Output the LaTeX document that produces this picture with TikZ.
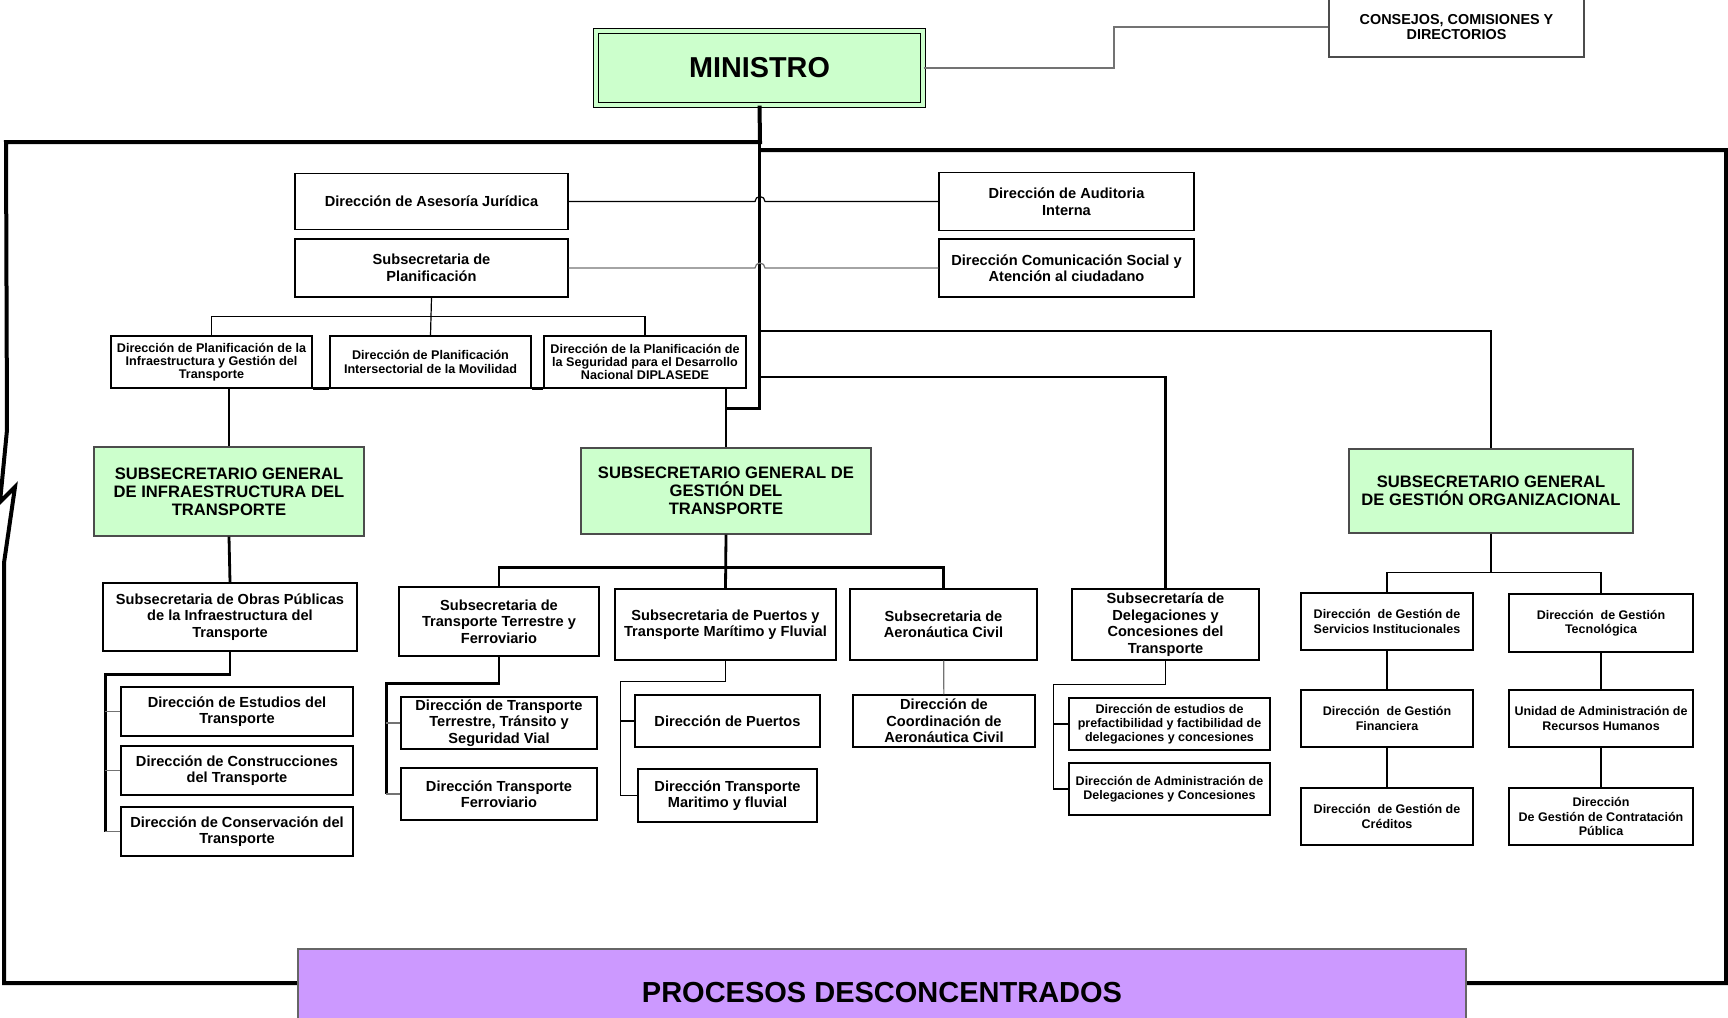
\documentclass[tikz,border=0pt]{standalone}
\usepackage{fontspec}
\setmainfont{Liberation Sans}
\usetikzlibrary{positioning,calc}
\definecolor{verde}{HTML}{CCFFCC}
\definecolor{lila}{HTML}{CC99FF}
\def\Texto#1#2{\fontsize{#1}{#2}\selectfont\bfseries}

\begin{document}
\begin{tikzpicture}[x=0.5pt,y=-0.5pt,% one unit = one pixel of the chart
		every node/.style={
			align=center,	% so that "\\" breaks the line
			inner sep=0pt
		},
		every edge/.style={draw,line width=0.6pt},
		tam/.style 2 args={minimum width=#1*0.5pt,minimum height=#2*0.5pt},
		caja/.style={draw=black,line width=0.7pt,fill=white,font=\Texto{7.3}{8.25}},
		chica/.style={caja,font=\Texto{6.25}{7.1}},
		plan/.style={caja,font=\Texto{6.3}{6.6}},
		jefe/.style={draw=black!70,line width=0.7pt,fill=verde,font=\Texto{8.3}{9.1}},
		marco/.style={draw,line width=2pt},
		grueso/.style={draw,line width=1.4pt},
		fino/.style={draw,line width=0.6pt},
		gris/.style={draw=black!55,line width=0.6pt}
	]
	\useasboundingbox (0,0) rectangle (1728,1017);

	% top
	\node[draw=black,line width=0.6pt,double=verde,double distance=2pt,fill=verde,tam={327}{74},font=\Texto{14.4}{16}] (Min) at (759.5,68) {MINISTRO};
	\node[caja,draw=black!70,tam={255}{60},font=\Texto{7.2}{7.7}] (Cons) at (1456.5,27) {CONSEJOS, COMISIONES Y\\DIRECTORIOS};
	\draw[gris,line width=1pt] (Min.east) -- ++(190,0) |- (Cons.west);

	% outer frame
	\draw[marco] (Min.south) -- (760,142) -- (6,142) -- (7,430) -- (0,502) -- (15,487) -- (4,563) -- (4,983) -- (1726,983) -- (1726,150) -- (760,150);
	\draw[grueso] (Min.south) -- ++(0,303) -| (726,448);

	% advisors
	\node[caja,tam={273}{56}] (Jur) at (431.5,201.5) {Dirección de Asesoría Jurídica};
	\node[caja,tam={273}{58}] (Plan) at (431.5,268) {Subsecretaria de\\Planificación};
	\node[caja,tam={255}{58}] (Aud) at (1066.5,201.5) {Dirección de Auditoria\\Interna};
	\node[caja,tam={255}{58}] (Com) at (1066.5,268) {Dirección Comunicación Social y\\Atención al ciudadano};
	\coordinate (r1) at (760,331);
	\coordinate (r2) at (760,377);
	\draw[fino] (Jur.east) -- ($(Jur.east -| r1)+(-5,0)$) arc (180:360:5) -- (Aud.west);
	\draw[gris] (Plan.east) -- ($(Plan.east -| r1)+(-5,0)$) arc (180:360:5) -- (Com.west);

	% planning
	\node[plan,tam={201}{52}] (PA) at (211.5,362) {Dirección de Planificación de la\\Infraestructura y Gestión del\\Transporte};
	\node[plan,tam={201}{52}] (PB) at (430.5,362) {Dirección de Planificación\\Intersectorial de la Movilidad};
	\node[plan,tam={202}{52}] (PC) at (645,362) {Dirección de la Planificación de\\la Seguridad para el Desarrollo\\Nacional DIPLASEDE};
	\draw[fino] (Plan.south) -- (PB.north);
	\draw[fino] (PA.north) |- ($(Plan.south)!.5!(PB.north)$) -| (PC.north);
	\draw[grueso] (PA.south east) -- (PB.south west) (PB.south east) -- (PC.south west);

	% general undersecretaries
	\node[jefe,tam={270}{89}] (SGI) at (229,491.5) {SUBSECRETARIO GENERAL\\DE INFRAESTRUCTURA DEL\\TRANSPORTE};
	\node[jefe,tam={290}{86}] (SGT) at (726,491) {SUBSECRETARIO GENERAL DE\\GESTIÓN DEL\\TRANSPORTE};
	\node[jefe,tam={284}{84}] (SGO) at (1491,491) {SUBSECRETARIO GENERAL\\DE GESTIÓN ORGANIZACIONAL};
	\draw[grueso] (PA.south -| SGI.north) -- (SGI.north);
	\draw[grueso] (PC.south -| SGT.north) -- (SGT.north);
	\draw[grueso] (r1) -| (SGO.north);

	% infrastructure
	\node[caja,tam={254}{68}] (Obras) at (230,617) {Subsecretaria de Obras Públicas\\de la Infraestructura del\\Transporte};
	\node[caja,tam={232}{49}] (Est) at (237,711.5) {Dirección de Estudios del\\Transporte};
	\node[caja,tam={232}{49}] (Cst) at (237,770.5) {Dirección de Construcciones\\del Transporte};
	\node[caja,tam={232}{49}] (Csv) at (237,831.5) {Dirección de Conservación del\\Transporte};
	\draw[grueso] (SGI.south) -- (Obras.north);
	\draw[grueso] (Obras.south) -- ++(0,23) -| ($(Csv.west)+(-15,0)$);
	\foreach \n in {Est,Cst,Csv} \draw[gris] (\n.west) -- ++(-15,0);

	% transport management
	\node[caja,tam={200}{69}] (Ter) at (499,621.5) {Subsecretaria de\\Transporte Terrestre y\\Ferroviario};
	\node[caja,tam={221}{71}] (Pue) at (725.5,624.5) {Subsecretaria de Puertos y\\Transporte Marítimo y Fluvial};
	\node[caja,tam={187}{71}] (Aer) at (943.5,624.5) {Subsecretaria de\\Aeronáutica Civil};
	\draw[grueso] (Ter.north) |- ($(SGT.south)+(0,33)$) -| (Aer.north);
	\draw[grueso] (SGT.south) -- (Pue.north);

	\node[caja,tam={196}{52}] (DTT) at (499,723) {Dirección de Transporte\\Terrestre, Tránsito y\\Seguridad Vial};
	\node[caja,tam={196}{52}] (DTF) at (499,794) {Dirección Transporte\\Ferroviario};
	\draw[grueso] (Ter.south) -- ++(0,27) -| ($(DTF.west)+(-14,0)$);
	\draw[gris] (DTT.west) -- ++(-14,0) (DTF.west) -- ++(-14,0);

	\node[caja,tam={185}{52}] (DPu) at (727.5,721) {Dirección de Puertos};
	\node[caja,tam={179}{53}] (DTM) at (727.5,795.5) {Dirección Transporte\\Maritimo y fluvial};
	\draw[fino] (Pue.south) -- ++(0,21) -| ($(DTM.west)+(-17,0)$) -- (DTM.west);
	\draw[fino] (DPu.west) -- ++(-14,0);

	\node[caja,tam={182}{52}] (DCA) at (944,721) {Dirección de\\Coordinación de\\Aeronáutica Civil};
	\path (Aer) edge[draw=black!55] (DCA);

	% concessions
	\node[caja,tam={187}{71}] (Del) at (1165.5,624.5) {Subsecretaría de\\Delegaciones y\\Concesiones del\\Transporte};
	\node[chica,tam={201}{52}] (DEP) at (1169.5,724) {Dirección de estudios de\\prefactibilidad y factibilidad de\\delegaciones y concesiones};
	\node[chica,tam={201}{52}] (DAD) at (1169.5,789) {Dirección de Administración de\\Delegaciones y Concesiones};
	\draw[grueso] (r2) -| (Del.north);
	\draw[fino] (Del.south) -- ++(0,24) -| ($(DAD.west)+(-15,0)$) -- (DAD.west);
	\draw[fino] (DEP.west) -- ++(-15,0);

	% organisational management
	\node[chica,tam={172}{57}] (GSI) at (1387,621.5) {Dirección\ \ de Gestión de\\Servicios Institucionales};
	\node[chica,tam={184}{58}] (GTe) at (1601,623) {Dirección\ \ de Gestión\\Tecnológica};
	\node[chica,tam={172}{57}] (GFi) at (1387,718.5) {Dirección\ \ de Gestión\\Financiera};
	\node[chica,tam={184}{57}] (URH) at (1601,718.5) {Unidad de Administración de\\Recursos Humanos};
	\node[chica,tam={172}{57}] (GCr) at (1387,816.5) {Dirección\ \ de Gestión de\\Créditos};
	\node[chica,tam={184}{57}] (GCP) at (1601,816.5) {Dirección\\De Gestión de Contratación\\Pública};
	\draw[grueso] (SGO.south) -- ++(0,39);
	\draw[fino] (GSI.north) |- ($(SGO.south)+(0,39)$) -| (GTe.north);
	\path (GSI) edge (GFi) (GFi) edge (GCr) (GTe) edge (URH) (URH) edge (GCP);

	% bottom
	\node[draw=black!60,line width=0.6pt,fill=lila,tam={1168}{88},font=\Texto{14.5}{16}] (Proc) at (882,993) {PROCESOS DESCONCENTRADOS};
\end{tikzpicture}
\end{document}
